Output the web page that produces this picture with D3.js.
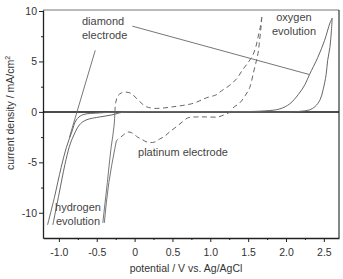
<!DOCTYPE html>
<html>
<head>
<meta charset="utf-8">
<script src="https://cdn.jsdelivr.net/npm/d3@7"></script>
<style>
  body { margin: 0; background: #fff; }
  svg text { font-family: "Liberation Sans", Arial, sans-serif; }
  .axis text { fill: #333; font-size: 10.5px; }
  .axis path, .axis line { stroke: #222; }
  .note { fill: #444; font-size: 11px; }
</style>
</head>
<body>
<div id="main_div"></div>
<script>
/** chart values (V vs Ag/AgCl, mA/cm2) **/
const xTicks = [-1.0, -0.5, 0, 0.5, 1.0, 1.5, 2.0, 2.5];
const xTickLabels = ["-1.0", "-0.5", "0", "0.5", "1.0", "1.5", "2.0", "2.5"];
const xMinor = [-0.75, -0.25, 0.25, 0.75, 1.25, 1.75, 2.25];
const yTicks = [10, 5, 0, -5, -10];
const yMinor = [7.5, 2.5, -2.5, -7.5];

// diamond electrode, two sweep branches (solid)
const diamond1 = [[-1.15,-11.2],[-1.06,-8.5],[-0.97,-5.5],[-0.9,-3.5],[-0.83,-2.0],[-0.77,-0.8],[-0.69,-0.3],
  [-0.46,-0.1],[-0.25,-0.02],[0,0],[1.0,0],[1.72,0.1],[1.92,0.3],[2.05,0.8],[2.16,1.7],[2.25,2.7],
  [2.31,3.7],[2.42,5.4],[2.51,7.1],[2.58,8.8],[2.61,9.3]];
const diamond2 = [[-1.08,-11.2],[-1.0,-8.2],[-0.92,-5.2],[-0.86,-3.4],[-0.82,-2.6],[-0.73,-1.3],[-0.64,-0.8],
  [-0.46,-0.5],[-0.3,-0.3],[-0.2,-0.1],[-0.1,0],[1.0,0],[2.1,0],[2.18,0.05],[2.31,0.2],[2.38,0.5],
  [2.45,1.2],[2.49,2.2],[2.53,3.7],[2.55,5.1],[2.58,6.4],[2.6,8.1],[2.61,9.3]];

// platinum electrode, anodic and cathodic sweep (dashed)
const ptUpper = [[-0.26,0],[-0.25,0.9],[-0.22,1.6],[-0.17,1.9],[-0.1,1.95],[-0.04,1.8],[0.03,1.3],[0.1,0.8],
  [0.16,0.5],[0.26,0.35],[0.4,0.4],[0.5,0.5],[0.6,0.6],[0.75,0.8],[0.86,1.1],[0.95,1.4],[1.08,1.7],
  [1.15,2.1],[1.25,2.6],[1.35,3.3],[1.42,4.1],[1.5,4.9],[1.56,5.6],[1.6,6.4],[1.63,7.4],[1.66,8.4],[1.68,9.4]];
const ptLower = [[1.68,9.4],[1.67,8.4],[1.65,7.0],[1.63,5.8],[1.6,4.8],[1.57,3.9],[1.52,2.4],[1.46,1.6],
  [1.39,0.9],[1.3,0.4],[1.26,0.0],[1.18,-0.3],[1.1,-0.5],[0.95,-0.5],[0.82,-0.5],[0.7,-0.6],[0.63,-1.0],
  [0.53,-1.6],[0.46,-2.0],[0.4,-2.4],[0.33,-2.7],[0.26,-3.0],[0.17,-3.0],[0.09,-2.7],[0.04,-2.5],
  [-0.03,-2.1],[-0.09,-2.0],[-0.15,-2.3],[-0.2,-2.6],[-0.24,-2.85]];
// platinum hydrogen evolution (steep, looks solid)
const ptH1 = [[-0.26,0],[-0.27,-1.3],[-0.31,-3.5],[-0.36,-7],[-0.42,-11]];
const ptH2 = [[-0.24,-2.85],[-0.26,-3.6],[-0.34,-7],[-0.40,-11]];

// pointer lines from the labels [from, to]
const diamondPointer = [[-0.52, 6.1], [-0.86, -2.5]];
const oxygenPointer = [[-0.03, 8.5], [2.31, 3.7]];

let xScale, yScale;
const W = 343, H = 279;
const curveColor = "#666";

render();

function render() {
    let svg = d3.select("#main_div").append("svg")
        .attr("width", W).attr("height", H).attr("id", "main_svg");

    xScale = d3.scaleLinear().domain([-1.21, 2.70]).range([43, 339]);
    yScale = d3.scaleLinear().domain([-12.5, 10.1]).range([238, 10]);

    drawAxes(svg);
    drawCurves(svg);
    drawNotes(svg);
}

function drawAxes(svg) {
    // frame top + right
    svg.append("line").attr("x1", 43).attr("x2", 339).attr("y1", 10).attr("y2", 10)
        .attr("stroke", "#777").attr("stroke-width", 1);
    svg.append("line").attr("x1", 339).attr("x2", 339).attr("y1", 10).attr("y2", 238)
        .attr("stroke", "#333").attr("stroke-width", 1.2);

    let xAxis = d3.axisBottom(xScale).tickValues(xTicks).tickSize(4).tickSizeOuter(0)
        .tickFormat((d, i) => xTickLabels[i]);
    let yAxis = d3.axisLeft(yScale).tickValues(yTicks).tickSize(4).tickSizeOuter(0)
        .tickFormat(d => String(d));

    let xg = svg.append("g").attr("class", "axis")
        .attr("transform", "translate(0,238)").call(xAxis);
    xg.select(".domain").attr("stroke-width", 1.3);
    xg.selectAll(".tick text").attr("dy", "1.05em");

    let xm = svg.append("g").attr("class", "axis")
        .attr("transform", "translate(0,238)")
        .call(d3.axisBottom(xScale).tickValues(xMinor).tickSize(2).tickFormat(""));
    xm.select(".domain").remove();

    let yg = svg.append("g").attr("class", "axis")
        .attr("transform", "translate(43,0)").call(yAxis);
    yg.select(".domain").attr("stroke-width", 1.3);
    yg.selectAll(".tick text").attr("x", -6);

    let ym = svg.append("g").attr("class", "axis")
        .attr("transform", "translate(43,0)")
        .call(d3.axisLeft(yScale).tickValues(yMinor).tickSize(2).tickFormat(""));
    ym.select(".domain").remove();

    // zero line
    svg.append("line").attr("x1", 43).attr("x2", 339)
        .attr("y1", yScale(0)).attr("y2", yScale(0))
        .attr("stroke", "#111").attr("stroke-width", 1.5);

    /**axis titles */
    svg.append("text").attr("x", 186).attr("y", 272)
        .attr("text-anchor", "middle").attr("fill", "#333").attr("font-size", "10.5px")
        .text("potential / V vs. Ag/AgCl");

    let yt = svg.append("text")
        .attr("transform", "translate(14,113) rotate(-90)")
        .attr("text-anchor", "middle").attr("fill", "#333").attr("font-size", "10.5px");
    yt.append("tspan").text("current density / mA/cm");
    yt.append("tspan").attr("dy", -4).attr("font-size", "7px").text("2");
}

function drawCurves(svg) {
    let line = d3.line()
        .x(d => xScale(d[0]))
        .y(d => yScale(d[1]))
        .curve(d3.curveMonotoneY);
    let smooth = d3.line()
        .x(d => xScale(d[0]))
        .y(d => yScale(d[1]))
        .curve(d3.curveCatmullRom.alpha(0.5));

    let g = svg.append("g").attr("id", "plots").attr("fill", "none");

    [diamond1, diamond2].forEach(function (s) {
        g.append("path").attr("d", smooth(s))
            .attr("stroke", curveColor).attr("stroke-width", 1);
    });

    [ptUpper, ptLower].forEach(function (s) {
        g.append("path").attr("d", smooth(s))
            .attr("stroke", curveColor).attr("stroke-width", 1)
            .attr("stroke-dasharray", "5,3.5");
    });

    [ptH1, ptH2].forEach(function (s) {
        g.append("path").attr("d", line(s))
            .attr("stroke", curveColor).attr("stroke-width", 0.9);
    });

    [diamondPointer, oxygenPointer].forEach(function (p) {
        g.append("line")
            .attr("x1", xScale(p[0][0])).attr("y1", yScale(p[0][1]))
            .attr("x2", xScale(p[1][0])).attr("y2", yScale(p[1][1]))
            .attr("stroke", curveColor).attr("stroke-width", 0.9);
    });
}

function drawNotes(svg) {
    const notes = [
        { x: 82, y: 25, anchor: "start", lines: ["diamond", "electrode"] },
        { x: 294, y: 21, anchor: "middle", lines: ["oxygen", "evolution"] },
        { x: 78, y: 211, anchor: "middle", lines: ["hydrogen", "evolution"] },
        { x: 183, y: 156, anchor: "middle", lines: ["platinum electrode"] }
    ];
    notes.forEach(function (n) {
        let t = svg.append("text").attr("class", "note")
            .attr("x", n.x).attr("y", n.y).attr("text-anchor", n.anchor);
        n.lines.forEach(function (s, i) {
            t.append("tspan").attr("x", n.x).attr("dy", i == 0 ? 0 : 14).text(s);
        });
    });
}
</script>
</body>
</html>
